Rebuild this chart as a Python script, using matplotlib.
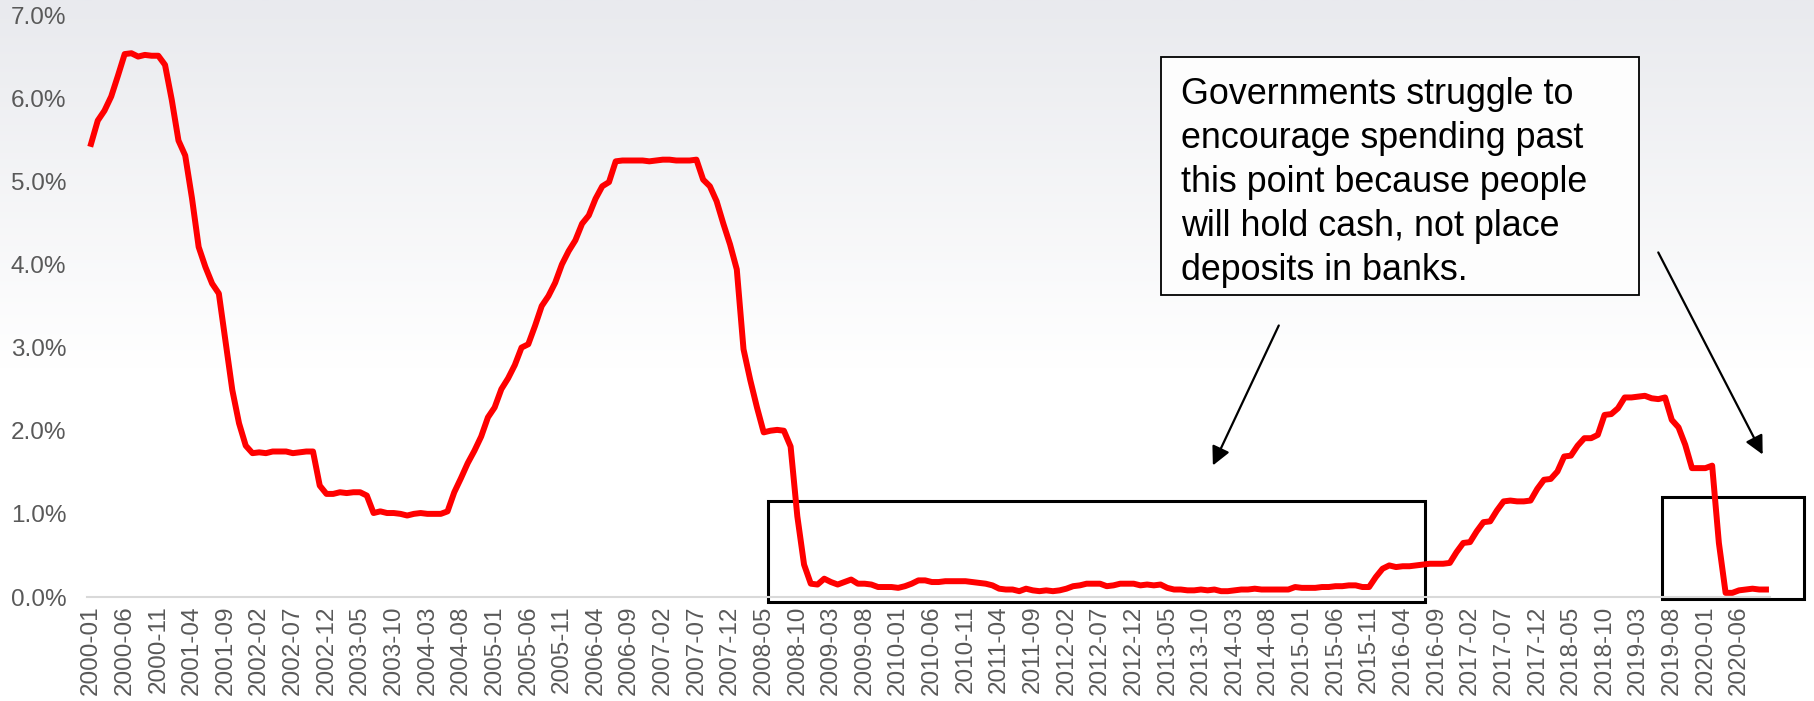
import numpy as np
import matplotlib.pyplot as plt
from matplotlib.patches import Rectangle
from matplotlib.colors import LinearSegmentedColormap

plt.rcParams['font.family'] = ['Liberation Sans', 'DejaVu Sans']

# effective rate, % per month
rate_2000 = [5.45, 5.73, 5.85, 6.02, 6.27, 6.53, 6.54, 6.50, 6.52, 6.51, 6.51, 6.40]
rate_2001 = [5.98, 5.49, 5.31, 4.80, 4.21, 3.97, 3.77, 3.65, 3.07, 2.49, 2.09, 1.82]
rate_2002 = [1.73, 1.74, 1.73, 1.75, 1.75, 1.75, 1.73, 1.74, 1.75, 1.75, 1.34, 1.24]
rate_2003 = [1.24, 1.26, 1.25, 1.26, 1.26, 1.22, 1.01, 1.03, 1.01, 1.01, 1.00, 0.98]
rate_2004 = [1.00, 1.01, 1.00, 1.00, 1.00, 1.03, 1.26, 1.43, 1.61, 1.76, 1.93, 2.16]
rate_2005 = [2.28, 2.50, 2.63, 2.79, 3.00, 3.04, 3.26, 3.50, 3.62, 3.78, 4.00, 4.16]
rate_2006 = [4.29, 4.49, 4.59, 4.79, 4.94, 4.99, 5.24, 5.25, 5.25, 5.25, 5.25, 5.24]
rate_2007 = [5.25, 5.26, 5.26, 5.25, 5.25, 5.25, 5.26, 5.02, 4.94, 4.76, 4.49, 4.24]
rate_2008 = [3.94, 2.98, 2.61, 2.28, 1.98, 2.00, 2.01, 2.00, 1.81, 0.97, 0.39, 0.16]
rate_2009 = [0.15, 0.22, 0.18, 0.15, 0.18, 0.21, 0.16, 0.16, 0.15, 0.12, 0.12, 0.12]
rate_2010 = [0.11, 0.13, 0.16, 0.20, 0.20, 0.18, 0.18, 0.19, 0.19, 0.19, 0.19, 0.18]
rate_2011 = [0.17, 0.16, 0.14, 0.10, 0.09, 0.09, 0.07, 0.10, 0.08, 0.07, 0.08, 0.07]
rate_2012 = [0.08, 0.10, 0.13, 0.14, 0.16, 0.16, 0.16, 0.13, 0.14, 0.16, 0.16, 0.16]
rate_2013 = [0.14, 0.15, 0.14, 0.15, 0.11, 0.09, 0.09, 0.08, 0.08, 0.09, 0.08, 0.09]
rate_2014 = [0.07, 0.07, 0.08, 0.09, 0.09, 0.10, 0.09, 0.09, 0.09, 0.09, 0.09, 0.12]
rate_2015 = [0.11, 0.11, 0.11, 0.12, 0.12, 0.13, 0.13, 0.14, 0.14, 0.12, 0.12, 0.24]
rate_2016 = [0.34, 0.38, 0.36, 0.37, 0.37, 0.38, 0.39, 0.40, 0.40, 0.40, 0.41, 0.54]
rate_2017 = [0.65, 0.66, 0.79, 0.90, 0.91, 1.04, 1.15, 1.16, 1.15, 1.15, 1.16, 1.30]
rate_2018 = [1.41, 1.42, 1.51, 1.69, 1.70, 1.82, 1.91, 1.91, 1.95, 2.19, 2.20, 2.27]
rate_2019 = [2.40, 2.40, 2.41, 2.42, 2.39, 2.38, 2.40, 2.13, 2.04, 1.83, 1.55, 1.55]
rate_2020 = [1.55, 1.58, 0.65, 0.05, 0.05, 0.08, 0.09, 0.10, 0.09, 0.09]

rate = (rate_2000 + rate_2001 + rate_2002 + rate_2003 + rate_2004 + rate_2005 +
        rate_2006 + rate_2007 + rate_2008 + rate_2009 + rate_2010 + rate_2011 +
        rate_2012 + rate_2013 + rate_2014 + rate_2015 + rate_2016 + rate_2017 +
        rate_2018 + rate_2019 + rate_2020)
months = [f'{2000 + i // 12}-{i % 12 + 1:02d}' for i in range(len(rate))]

note = ('Governments struggle to\nencourage spending past\nthis point because people\n'
        'will hold cash, not place\ndeposits in banks.')

fig = plt.figure(figsize=(18.14, 7.01), dpi=100)

# light slide-style background
bg = fig.add_axes([0, 0, 1, 1], zorder=-10)
grad = np.clip(np.linspace(0, 1.9, 256), 0, 1).reshape(-1, 1)
cmap = LinearSegmentedColormap.from_list('bg', ['#e9eaee', '#ffffff'])
bg.imshow(grad, aspect='auto', cmap=cmap, extent=[0, 1, 0, 1], origin='upper')
bg.axis('off')

ax = fig.add_axes([87 / 1814, 1 - 597 / 701, (1770 - 87) / 1814, (597 - 15) / 701])
ax.patch.set_alpha(0)

x = np.arange(len(rate))
ax.plot(x, rate, color='#ff0000', lw=4.3, solid_joinstyle='round', zorder=3)

ax.set_xlim(-0.6, len(rate) - 1 + 0.6)
ax.set_ylim(0, 7)
ax.set_yticks(range(0, 8))
ax.set_yticklabels([f'{v:.1f}%' for v in range(0, 8)])
ax.set_xticks(x[::5])
ax.set_xticklabels(months[::5], rotation=90)

for s in ['top', 'right', 'left']:
    ax.spines[s].set_visible(False)
ax.spines['bottom'].set_color('#d9d9d9')
ax.spines['bottom'].set_linewidth(1.5)
ax.tick_params(axis='both', length=0, colors='#595959')
ax.tick_params(axis='y', pad=15, labelsize=17.5)
ax.tick_params(axis='x', pad=6, labelsize=17.5)

# highlight boxes
ax.add_patch(Rectangle((100.6, -0.06), 97.7, 1.215, fill=False, ec='black',
                       lw=2.2, zorder=2, clip_on=False))
ax.add_patch(Rectangle((233.5, -0.024), 21.1, 1.227, fill=False, ec='black',
                       lw=2.2, zorder=2, clip_on=False))

# note box
ax.add_patch(Rectangle((159.06, 3.632), 71.04, 2.863, fc='#fdfdfd', ec='black',
                       lw=1.3, zorder=4, clip_on=False))
ax.text(162.0, 6.25, note, fontsize=25.8, va='top', ha='left', linespacing=1.33,
        color='black', zorder=5)

arrow = dict(arrowstyle='-|>', color='black', lw=1.6, mutation_scale=28)
ax.annotate('', xy=(166.6, 1.552), xytext=(176.75, 3.296), arrowprops=arrow,
            annotation_clip=False, zorder=5)
ax.annotate('', xy=(248.7, 1.684), xytext=(232.8, 4.174), arrowprops=arrow,
            annotation_clip=False, zorder=5)

fig.savefig('out.png', dpi=100)
